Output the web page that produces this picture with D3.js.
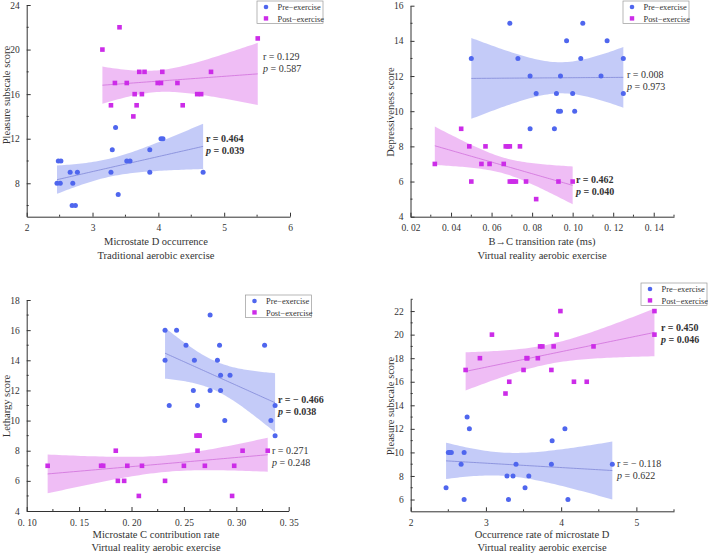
<!DOCTYPE html>
<html>
<head>
<meta charset="utf-8">
<script src="https://cdn.jsdelivr.net/npm/d3@7"></script>
<style>
  body { margin: 0; background: #fff; }
  svg { display: block; }
  text { font-family: "Liberation Serif", "Times New Roman", serif; fill: #333; }
</style>
</head>
<body>
<svg id="chart" width="708" height="553"></svg>
<script>
// ---------- DATA ----------
// Panel A: Traditional aerobic exercise, Microstate D occurrence vs Pleasure
const aPreX  = [2.46, 2.51, 2.48, 2.52, 2.66, 2.70, 2.77, 2.69, 2.74, 3.28, 3.30, 3.35, 3.39, 3.52, 3.57, 3.87, 3.87, 4.04, 4.07, 4.68];
const aPreY  = [8, 8, 10, 10, 9, 8, 9, 6, 6, 9, 11, 13, 7, 10, 10, 9, 11, 12, 12, 9];
const aPostX = [3.15, 3.41, 3.28, 3.34, 3.52, 3.62, 3.64, 3.67, 3.71, 3.79, 3.75, 3.99, 4.04, 4.06, 4.29, 4.37, 4.59, 4.65, 4.80, 5.51];
const aPostY = [20, 22, 15, 17, 17, 14, 16, 15, 18, 18, 16, 17, 17, 18, 17, 15, 16, 16, 18, 21];
// Panel B: VR aerobic exercise, B->C transition rate vs Depressiveness
const bPreX  = [0.050, 0.069, 0.073, 0.079, 0.079, 0.082, 0.091, 0.092, 0.093, 0.094, 0.094, 0.097, 0.100, 0.101, 0.104, 0.105, 0.114, 0.117, 0.125, 0.125];
const bPreY  = [13, 15, 13, 12, 9, 11, 9, 11, 10, 10, 12, 14, 11, 10, 13, 15, 12, 14, 13, 11];
const bPostX = [0.032, 0.045, 0.049, 0.050, 0.055, 0.057, 0.059, 0.066, 0.067, 0.068, 0.069, 0.069, 0.070, 0.071, 0.072, 0.074, 0.077, 0.082, 0.093, 0.100];
const bPostY = [7, 9, 8, 6, 7, 8, 7, 7, 8, 8, 8, 6, 6, 6, 6, 8, 6, 5, 6, 6];
// Panel C: VR aerobic exercise, Microstate C contribution rate vs Lethargy
const cPreX  = [0.232, 0.232, 0.236, 0.243, 0.252, 0.260, 0.259, 0.263, 0.275, 0.275, 0.282, 0.284, 0.285, 0.285, 0.289, 0.294, 0.327, 0.333, 0.337, 0.337];
const cPreY  = [16, 14, 11, 16, 15, 14, 12, 11, 17, 12, 14, 15, 13, 12, 10, 13, 15, 10, 11, 9];
const cPostX = [0.120, 0.171, 0.173, 0.185, 0.187, 0.193, 0.196, 0.207, 0.210, 0.232, 0.250, 0.262, 0.264, 0.265, 0.263, 0.270, 0.296, 0.298, 0.306, 0.330];
const cPostY = [7, 7, 7, 8, 6, 6, 7, 5, 7, 6, 7, 9, 9, 9, 8, 7, 5, 7, 8, 8];
// Panel D: VR aerobic exercise, Occurrence rate of microstate D vs Pleasure
const dPreX  = [2.47, 2.50, 2.52, 2.54, 2.67, 2.71, 2.71, 2.75, 2.78, 3.28, 3.30, 3.36, 3.40, 3.52, 3.57, 3.87, 3.88, 4.05, 4.09, 4.68];
const dPreY  = [7, 10, 10, 10, 9, 10, 6, 13, 12, 8, 6, 8, 9, 7, 8, 9, 11, 12, 6, 9];
const dPostX = [2.73, 2.92, 3.08, 3.26, 3.31, 3.50, 3.54, 3.55, 3.69, 3.72, 3.75, 3.87, 3.90, 3.94, 3.99, 4.17, 4.34, 4.43, 5.24, 5.24];
const dPostY = [17, 18, 20, 15, 16, 17, 18, 18, 18, 19, 19, 17, 19, 20, 22, 16, 16, 19, 22, 20];

const seriesNames = ["Pre\u2212exercise", "Post\u2212exercise"];

const xTitles = [
  ["Microstate D occurrence", "Traditional aerobic exercise"],
  ["B\u2192C transition rate (ms)", "Virtual reality aerobic exercise"],
  ["Microstate C contribution rate", "Virtual reality aerobic exercise"],
  ["Occurrence rate of microstate D", "Virtual reality aerobic exercise"]
];
const yTitles = ["Pleasure subscale score", "Depressiveness score", "Lethargy score", "Pleasure subscale score"];

const xTickLabelsA = ["2", "3", "4", "5", "6"];
const xTickLabelsB = ["0. 02", "0. 04", "0. 06", "0. 08", "0. 10", "0. 12", "0. 14"];
const xTickLabelsC = ["0. 10", "0. 15", "0. 20", "0. 25", "0. 30", "0. 35"];
const xTickLabelsD = ["2", "3", "4", "5"];

// stats annotations: [r text, p text, bold?]
const statsA = [["r = 0.464", "0.039", true], ["r = 0.129", "0.587", false]];
const statsB = [["r = 0.008", "0.973", false], ["r = 0.462", "0.040", true]];
const statsC = [["r = \u2212 0.466", "0.038", true], ["r = 0.271", "0.248", false]];
const statsD = [["r = \u2212 0.118", "0.622", false], ["r = 0.450", "0.046", true]];

// ---------- STYLE / LAYOUT ----------
const COL = {
  pre:  { pt: "#4f66ee", band: "#7282ee", line: "#8088d8" },
  post: { pt: "#cc2ce8", band: "#d862e8", line: "#d070dc" }
};

const panels = [
  { preX: aPreX, preY: aPreY, postX: aPostX, postY: aPostY,
    xd: [2, 6], yd: [5, 24], xr: [26.7, 290], yr: [216.7, 5],
    xMajor: [2, 3, 4, 5, 6], xLab: xTickLabelsA, xMinor: [2.5, 3.5, 4.5, 5.5],
    yMajor: [8, 12, 16, 20, 24], yMinor: [6, 10, 14, 18, 22],
    titles: xTitles[0], ytitle: yTitles[0], ytx: 10, yty: 95, xtc: 156, xty: [245, 259],
    legend: [257, 1], stats: statsA, statPos: [[206, 142], [263, 60]] },
  { preX: bPreX, preY: bPreY, postX: bPostX, postY: bPostY,
    xd: [0.02, 0.15], yd: [4, 16], xr: [410.5, 674], yr: [216.7, 5.7],
    xMajor: [0.02, 0.04, 0.06, 0.08, 0.10, 0.12, 0.14], xLab: xTickLabelsB,
    xMinor: [0.03, 0.05, 0.07, 0.09, 0.11, 0.13, 0.15],
    yMajor: [4, 6, 8, 10, 12, 14, 16], yMinor: [5, 7, 9, 11, 13, 15],
    titles: xTitles[1], ytitle: yTitles[1], ytx: 394, yty: 112, xtc: 542, xty: [245, 259],
    legend: [623, 1], stats: statsB, statPos: [[627, 78], [576, 183]] },
  { preX: cPreX, preY: cPreY, postX: cPostX, postY: cPostY,
    xd: [0.10, 0.35], yd: [4, 18], xr: [26.7, 288.7], yr: [511, 300],
    xMajor: [0.10, 0.15, 0.20, 0.25, 0.30, 0.35], xLab: xTickLabelsC,
    xMinor: [0.125, 0.175, 0.225, 0.275, 0.325],
    yMajor: [4, 6, 8, 10, 12, 14, 16, 18], yMinor: [5, 7, 9, 11, 13, 15, 17],
    titles: xTitles[2], ytitle: yTitles[2], ytx: 10, yty: 406, xtc: 156, xty: [538, 551],
    legend: [245.5, 295], stats: statsC, statPos: [[278, 403], [272, 454]] },
  { preX: dPreX, preY: dPreY, postX: dPostX, postY: dPostY,
    xd: [2, 5.5], yd: [5, 23], xr: [410.7, 674], yr: [511.3, 299.3],
    xMajor: [2, 3, 4, 5], xLab: xTickLabelsD, xMinor: [2.5, 3.5, 4.5, 5.5],
    yMajor: [6, 8, 10, 12, 14, 16, 18, 20, 22], yMinor: [7, 9, 11, 13, 15, 17, 19, 21, 23],
    titles: xTitles[3], ytitle: yTitles[3], ytx: 393.5, yty: 406, xtc: 542, xty: [538, 551],
    legend: [641, 283], stats: statsD, statPos: [[617, 467], [661, 331]] }
];

// ---------- STATS HELPERS ----------
function tCrit(df) {
  const z = 1.959964;
  return z + (z*z*z + z) / (4*df) + (5*Math.pow(z,5) + 16*z*z*z + 3*z) / (96*df*df)
    + (3*Math.pow(z,7) + 19*Math.pow(z,5) + 17*z*z*z - 15*z) / (384*df*df*df);
}
function fit(xs, ys) {
  const n = xs.length;
  const mx = d3.mean(xs), my = d3.mean(ys);
  let sxx = 0, sxy = 0;
  for (let i = 0; i < n; i++) { sxx += (xs[i]-mx)**2; sxy += (xs[i]-mx)*(ys[i]-my); }
  const b = sxy / sxx, a = my - b*mx;
  let sse = 0;
  for (let i = 0; i < n; i++) sse += (ys[i] - a - b*xs[i])**2;
  const s = Math.sqrt(sse / (n - 2));
  const t = tCrit(n - 2);
  const [x0, x1] = d3.extent(xs);
  const grid = d3.range(0, 61).map(k => x0 + (x1 - x0) * k / 60);
  return grid.map(x => {
    const yh = a + b*x;
    const se = s * Math.sqrt(1/n + (x-mx)**2 / sxx);
    return { x, y: yh, lo: yh - t*se, hi: yh + t*se };
  });
}

// ---------- DRAW ----------
const svg = d3.select("#chart");

panels.forEach((P) => {
  const g = svg.append("g");
  const x = d3.scaleLinear().domain(P.xd).range(P.xr);
  const y = d3.scaleLinear().domain(P.yd).range(P.yr);

  // bands and fit lines
  const groups = [
    { xs: P.preX, ys: P.preY, c: COL.pre },
    { xs: P.postX, ys: P.postY, c: COL.post }
  ];
  groups.forEach(G => {
    const f = fit(G.xs, G.ys);
    g.append("path").datum(f)
      .attr("d", d3.area().x(d => x(d.x)).y0(d => y(d.lo)).y1(d => y(d.hi)))
      .attr("fill", G.c.band).attr("fill-opacity", 0.42).attr("stroke", "none");
  });
  groups.forEach(G => {
    const f = fit(G.xs, G.ys);
    g.append("path").datum(f)
      .attr("d", d3.line().x(d => x(d.x)).y(d => y(d.y)))
      .attr("fill", "none").attr("stroke", G.c.line).attr("stroke-width", 0.8);
  });

  // axes
  const xAxis = d3.axisBottom(x).tickValues(P.xMajor)
    .tickFormat((d, i) => P.xLab[i]).tickSizeInner(-4).tickSizeOuter(0).tickPadding(8);
  const gx = g.append("g").attr("transform", `translate(0,${P.yr[0]})`).call(xAxis);
  const yAxis = d3.axisLeft(y).tickValues(P.yMajor).tickSizeInner(-4).tickSizeOuter(0).tickPadding(7);
  const gy = g.append("g").attr("transform", `translate(${P.xr[0]},0)`).call(yAxis);
  [gx, gy].forEach(ax => {
    ax.select(".domain").attr("stroke", "#333").attr("stroke-width", 1);
    ax.selectAll(".tick line").attr("stroke", "#333");
    ax.selectAll(".tick text").attr("font-family", "'Liberation Serif', serif")
      .attr("font-size", 9.5).attr("fill", "#444");
  });
  // minor ticks
  g.append("g").selectAll("line").data(P.xMinor).join("line")
    .attr("x1", d => x(d)).attr("x2", d => x(d))
    .attr("y1", P.yr[0]).attr("y2", P.yr[0] - 2).attr("stroke", "#333");
  g.append("g").selectAll("line").data(P.yMinor).join("line")
    .attr("x1", P.xr[0]).attr("x2", P.xr[0] + 2)
    .attr("y1", d => y(d)).attr("y2", d => y(d)).attr("stroke", "#333");

  // points
  g.append("g").selectAll("circle").data(d3.zip(P.preX, P.preY)).join("circle")
    .attr("cx", d => x(d[0])).attr("cy", d => y(d[1])).attr("r", 2.5)
    .attr("fill", COL.pre.pt);
  g.append("g").selectAll("rect").data(d3.zip(P.postX, P.postY)).join("rect")
    .attr("x", d => x(d[0]) - 2.3).attr("y", d => y(d[1]) - 2.3)
    .attr("width", 4.6).attr("height", 4.6).attr("fill", COL.post.pt);

  // axis titles
  P.titles.forEach((t, i) => {
    g.append("text").attr("x", P.xtc).attr("y", P.xty[i]).attr("text-anchor", "middle")
      .attr("font-size", 10.5).attr("fill", "#333").text(t);
  });
  g.append("text").attr("transform", `translate(${P.ytx},${P.yty}) rotate(-90)`)
    .attr("text-anchor", "middle").attr("font-size", 10.5).attr("fill", "#333").text(P.ytitle);

  // stats annotations
  P.stats.forEach((s, i) => {
    const [sx, sy] = P.statPos[i];
    const w = s[2] ? "bold" : "normal";
    g.append("text").attr("x", sx).attr("y", sy).attr("font-size", 10)
      .attr("font-weight", w).attr("fill", "#222").text(s[0]);
    const t2 = g.append("text").attr("x", sx).attr("y", sy + 11.5).attr("font-size", 10)
      .attr("font-weight", w).attr("fill", "#222");
    t2.append("tspan").attr("font-style", "italic").text("p");
    t2.append("tspan").text(" = " + s[1]);
  });

  // legend
  const [lx, ly] = P.legend;
  const lg = g.append("g").attr("transform", `translate(${lx},${ly})`);
  lg.append("rect").attr("x", 0).attr("y", 0).attr("width", 66).attr("height", 22.5)
    .attr("fill", "#fff").attr("stroke", "#999").attr("stroke-width", 0.7);
  lg.append("circle").attr("cx", 9).attr("cy", 6).attr("r", 2.3).attr("fill", COL.pre.pt);
  lg.append("rect").attr("x", 6.8).attr("y", 15.2).attr("width", 4.4).attr("height", 4.4).attr("fill", COL.post.pt);
  seriesNames.forEach((nm, i) => {
    lg.append("text").attr("x", 20.5).attr("y", 9 + i * 11.5).attr("font-size", 8.4)
      .attr("fill", "#333").text(nm);
  });
});
</script>
</body>
</html>
